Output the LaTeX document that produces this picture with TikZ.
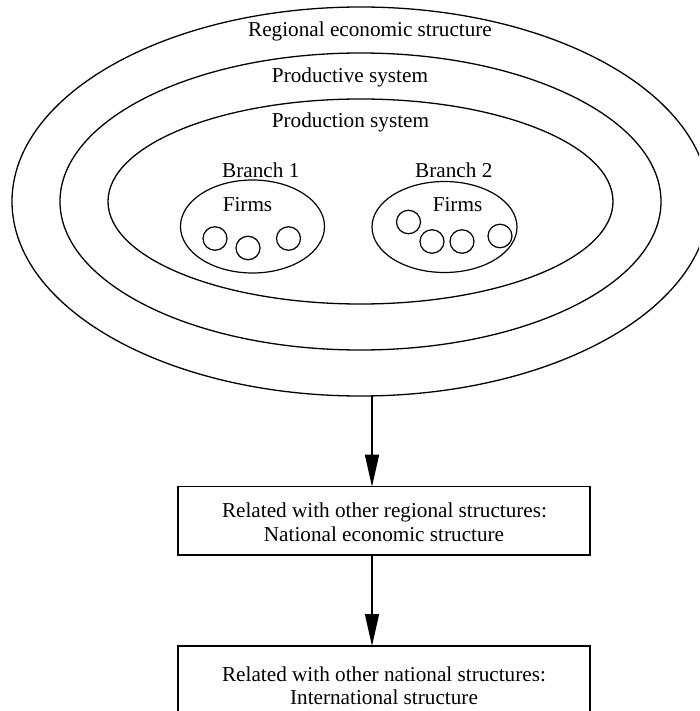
\documentclass[tikz,border=0pt]{standalone}
\usepackage{fontspec}
\setmainfont{Liberation Serif}
\usetikzlibrary{shapes.geometric,arrows.meta}
\begin{document}
\begin{tikzpicture}[x=1pt,y=-1pt,
  ring/.style={draw, ellipse, line width=1.3pt, inner sep=0pt, outer sep=0pt},
  firm/.style={draw, ellipse, line width=1.2pt, inner sep=0pt, outer sep=0pt, minimum width=24pt, minimum height=23.5pt},
  lbl/.style={anchor=base, inner sep=0pt, font=\fontsize{21.2}{24}\selectfont},
  boxed/.style={draw, rectangle, line width=1.5pt, inner sep=0pt, outer sep=0pt, minimum width=412pt, minimum height=68.3pt},
  arr/.style={line width=1.6pt, -{Triangle[length=32pt,width=14pt]}}]
\useasboundingbox (0,0) rectangle (699,711);
\clip (0,0) rectangle (699,711);
% nested rings
\node[ring, minimum width=697pt, minimum height=389pt] (reg) at (360.5,201.5) {};
\node[ring, minimum width=601pt, minimum height=297pt] (pdv) at (360.5,201.5) {};
\node[ring, minimum width=505pt, minimum height=205pt] (pdn) at (360.5,201.5) {};
\node[lbl] (tReg) at (370,37) {Regional economic structure};
\node[lbl] (tPdv) at (350,83) {Productive system};
\node[lbl] (tPdn) at (350.5,128) {Production system};
% branches
\node[ring, line width=1.2pt, minimum width=144pt, minimum height=93pt] (b1) at (252.5,226.5) {};
\node[ring, line width=1.2pt, minimum width=145pt, minimum height=91pt] (b2) at (444.5,227) {};
\node[lbl] (tB1) at (260.8,178) {Branch 1};
\node[lbl] (tB2) at (453.8,178) {Branch 2};
\node[lbl] (tF1) at (247.5,211.7) {Firms};
\node[lbl] (tF2) at (457.5,211.7) {Firms};
% firms
\node[firm] (c1) at (215,238.5) {};
\node[firm] (c2) at (248,248) {};
\node[firm] (c3) at (288.5,238.5) {};
\node[firm] (d1) at (408.5,222) {};
\node[firm] (d2) at (432,241.5) {};
\node[firm] (d3) at (462,241.5) {};
\node[firm] (d4) at (500,236) {};
% boxes
\node[boxed] (nat) at (384,520.85) {};
\node[lbl] (natT1) at (384.5,517) {Related with other regional structures:};
\node[lbl] (natT2) at (384,541.5) {National economic structure};
\node[boxed] (int) at (384,680.15) {};
\node[lbl] (intT1) at (384,681) {Related with other national structures:};
\node[lbl] (intT2) at (384,704) {International structure};
% arrows
\coordinate (ax) at (372,0);
\draw[arr] (ax |- reg.south) -- (ax |- nat.north);
\draw[arr] (ax |- nat.south) -- (ax |- int.north);
\end{tikzpicture}
\end{document}
